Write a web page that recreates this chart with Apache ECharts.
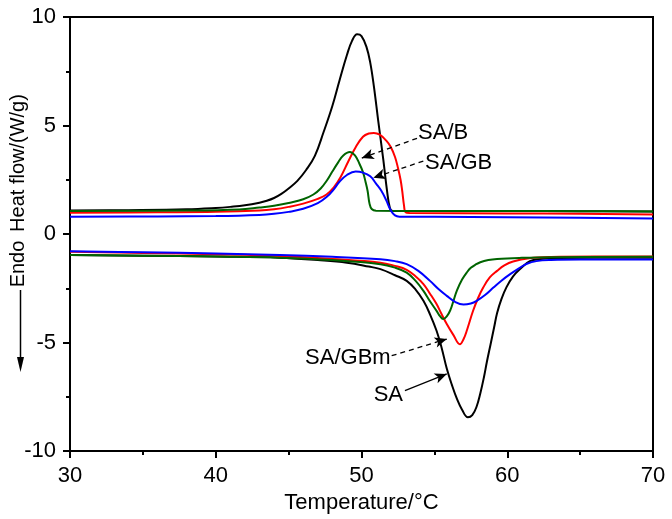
<!DOCTYPE html>
<html>
<head>
<meta charset="utf-8">
<script src="https://cdn.jsdelivr.net/npm/echarts@6/dist/echarts.min.js"></script>
<style>html,body{margin:0;padding:0;background:#fff;}#c{width:672px;height:519px;}</style>
</head>
<body>
<div id="c"></div>
<script>
// ---- data (temperature °C, heat flow W/g) ----
const saTop = [[30,1.08],[34,1.1],[38,1.14],[40,1.2],[41,1.25],[42,1.32],[43,1.44],[43.5,1.53],[44,1.66],[44.5,1.85],[45,2.1],[45.6,2.45],[46.2,2.95],[46.8,3.6],[47.4,4.7],[48,5.9],[48.5,7.1],[49,8.25],[49.35,8.9],[49.7,9.2],[50.0,9.12],[50.35,8.6],[50.6,7.9],[50.85,6.8],[51.15,5.2],[51.5,3.4],[51.75,2.0],[51.95,1.2],[52.15,1.06],[55,1.06],[60,1.06],[65,1.05],[70,1.04]];
const sagbmTop = [[30,0.98],[36,1.0],[40,1.02],[43,1.08],[44,1.14],[45,1.25],[46,1.4],[47,1.62],[47.6,1.82],[48.1,2.15],[48.55,2.6],[49.1,3.35],[49.6,4.0],[50.1,4.48],[50.5,4.63],[50.85,4.66],[51.25,4.58],[51.7,4.3],[52.0,4.02],[52.3,3.55],[52.5,3.05],[52.68,2.5],[52.8,1.95],[52.92,1.3],[53.02,1.0],[53.3,0.97],[60,0.95],[65,0.93],[70,0.9]];
const sabTop = [[30,1.06],[38,1.08],[41.6,1.13],[43,1.22],[44,1.3],[45,1.43],[46,1.6],[46.7,1.82],[47.2,2.1],[47.6,2.44],[48.0,2.88],[48.4,3.3],[48.75,3.62],[49.2,3.78],[49.55,3.62],[49.85,3.25],[50.1,2.85],[50.28,2.4],[50.42,1.98],[50.55,1.4],[50.7,1.15],[51.0,1.07],[55,1.06],[60,1.06],[65,1.05],[70,1.04]];
const sagbTop = [[30,0.8],[36,0.81],[40,0.83],[43,0.88],[44,0.93],[45,1.02],[46,1.16],[47,1.42],[47.6,1.7],[48.1,2.06],[48.5,2.42],[49.0,2.72],[49.6,2.88],[50.1,2.83],[50.6,2.66],[51.0,2.32],[51.35,2.0],[51.7,1.55],[52.0,1.1],[52.3,0.86],[52.6,0.8],[55,0.79],[60,0.77],[65,0.75],[70,0.72]];

const saBot = [[30,-0.97],[35,-1.0],[40,-1.04],[44.4,-1.09],[47,-1.2],[49,-1.32],[50.5,-1.5],[51.3,-1.62],[52.3,-1.9],[53.1,-2.16],[53.7,-2.55],[54.25,-3.08],[54.7,-3.7],[55.15,-4.46],[55.5,-5.25],[55.85,-6.2],[56.2,-6.95],[56.55,-7.6],[56.9,-8.1],[57.3,-8.45],[57.6,-8.35],[57.9,-7.95],[58.15,-7.35],[58.4,-6.6],[58.6,-5.9],[58.85,-5.1],[59.1,-4.3],[59.3,-3.65],[59.6,-3.0],[59.95,-2.45],[60.4,-1.95],[60.9,-1.6],[61.55,-1.25],[62.3,-1.15],[63.5,-1.11],[66,-1.1],[70,-1.1]];
const sagbmBot = [[30,-0.82],[35,-0.87],[40,-0.93],[44.4,-1.01],[48,-1.15],[51.3,-1.32],[52.3,-1.47],[53.1,-1.65],[53.7,-1.95],[54.25,-2.31],[54.7,-2.75],[55.15,-3.23],[55.5,-3.7],[55.85,-4.15],[56.3,-4.65],[56.75,-5.08],[57.0,-4.85],[57.25,-4.4],[57.65,-3.55],[58.0,-2.95],[58.35,-2.47],[58.8,-2.0],[59.3,-1.7],[59.8,-1.45],[60.4,-1.27],[61.5,-1.12],[63,-1.06],[66,-1.04],[70,-1.04]];
const sabBot = [[30,-0.97],[35,-1.0],[40,-1.04],[44.4,-1.09],[48,-1.2],[51.3,-1.39],[52.3,-1.55],[53.1,-1.78],[53.7,-2.15],[54.25,-2.62],[54.7,-3.1],[55.15,-3.54],[55.4,-3.8],[55.6,-3.92],[55.85,-3.8],[56.1,-3.5],[56.3,-3.1],[56.55,-2.6],[56.9,-2.1],[57.25,-1.75],[57.5,-1.56],[57.8,-1.42],[58.15,-1.3],[58.7,-1.2],[59.3,-1.15],[61,-1.1],[63,-1.07],[70,-1.05]];
const sagbBot = [[30,-0.8],[35,-0.84],[40,-0.9],[44.4,-0.97],[48,-1.05],[51.3,-1.16],[52.3,-1.25],[53.1,-1.39],[53.9,-1.7],[54.7,-2.16],[55.3,-2.55],[55.85,-2.85],[56.4,-3.12],[57.0,-3.25],[57.5,-3.2],[57.9,-3.08],[58.5,-2.8],[59.05,-2.47],[59.6,-2.15],[60.2,-1.85],[60.8,-1.58],[61.35,-1.37],[62,-1.25],[63,-1.2],[65,-1.18],[70,-1.18]];

const xTicks = {min:30, max:70, interval:10};
const yTicks = {min:-10, max:10, interval:5, minorInterval:2.5};

// annotation labels: [text, labelPoint, arrowStart, arrowEnd, dashed, align]
const notes = [
  ['SA/B',   [53.88, 4.64],  [53.81, 4.41],  [50.02, 3.50],  true,  'right'],
  ['SA/GB',  [54.36, 3.26],  [54.24, 3.36],  [50.81, 2.59],  true,  'right'],
  ['SA/GBm', [52.0, -5.72],  [52.07, -5.61], [55.85, -4.84], true,  'left'],
  ['SA',     [52.85, -7.4],  [52.98, -7.22], [55.85, -6.45], false, 'left']
];

const FONT = '"Liberation Sans", Arial, sans-serif';
const chart = echarts.init(document.getElementById('c'), null, {renderer:'canvas'});

function lineSeries(name, data, color) {
  return {
    name: name, type: 'line', data: data, showSymbol: false, symbol: 'none',
    smooth: 0.4,
    lineStyle: {color: color, width: 2}, itemStyle: {color: color},
    emphasis: {disabled: true}, silent: true, z: 3
  };
}

const series = [
  lineSeries('SA top', saTop, '#000000'),
  lineSeries('SA/GBm top', sagbmTop, '#ff0000'),
  lineSeries('SA/B top', sabTop, '#006400'),
  lineSeries('SA/GB top', sagbTop, '#0000ff'),
  lineSeries('SA bottom', saBot, '#000000'),
  lineSeries('SA/GBm bottom', sagbmBot, '#ff0000'),
  lineSeries('SA/B bottom', sabBot, '#006400'),
  lineSeries('SA/GB bottom', sagbBot, '#0000ff')
];

series.push({
  name: 'notes', type: 'line', data: [], silent: true,
  markLine: {
    silent: true, animation: false, symbolSize: [8, 12],
    label: {show: false},
    data: notes.map(n => [
      {coord: n[2], symbol: 'none', lineStyle: {color:'#000', width: 1.3, type: n[4] ? [5,4] : 'solid'}},
      {coord: n[3], symbol: 'arrow'}
    ])
  },
  markPoint: {
    silent: true, animation: false, symbol: 'circle', symbolSize: 0,
    data: notes.map(n => ({
      coord: n[1],
      label: {show: true, formatter: n[0], position: n[5], distance: 0,
              color: '#000', fontSize: 22, fontFamily: FONT}
    }))
  }
});

chart.setOption({
  animation: false,
  backgroundColor: '#fff',
  grid: {left: 70, right: 19, top: 17, bottom: 68, show: true, borderColor: '#000', borderWidth: 2, backgroundColor: 'transparent'},
  xAxis: {
    type: 'value', min: xTicks.min, max: xTicks.max, interval: xTicks.interval,
    name: 'Temperature/°C', nameLocation: 'middle', nameGap: 36,
    nameTextStyle: {color: '#000', fontSize: 22, fontFamily: FONT},
    axisLine: {show: true, onZero: false, lineStyle: {color: '#000', width: 2}},
    axisTick: {show: true, inside: false, length: 7, lineStyle: {color: '#000', width: 2}},
    minorTick: {show: true, splitNumber: 2, length: 4, lineStyle: {color: '#000', width: 2}},
    axisLabel: {color: '#000', fontSize: 22, fontFamily: FONT, margin: 14},
    splitLine: {show: false}
  },
  yAxis: [{
    type: 'value', min: yTicks.min, max: yTicks.max, interval: yTicks.interval, position: 'left',
    axisLine: {show: true, onZero: false, lineStyle: {color: '#000', width: 2}},
    axisTick: {show: true, inside: false, length: 7, lineStyle: {color: '#000', width: 2}},
    minorTick: {show: false},
    axisLabel: {color: '#000', fontSize: 22, fontFamily: FONT, margin: 14},
    splitLine: {show: false}
  }, {
    type: 'value', min: yTicks.min, max: yTicks.max, interval: yTicks.minorInterval, position: 'left', offset: 0,
    axisLine: {show: false, onZero: false},
    axisTick: {show: true, inside: false, length: 4, lineStyle: {color: '#000', width: 2}},
    axisLabel: {show: false},
    splitLine: {show: false}
  }],
  graphic: [
    {type: 'text', x: 18, y: 163, rotation: Math.PI/2,
     style: {text: 'Heat flow/(W/g)', fill: '#000', font: '20px ' + FONT, align: 'center', verticalAlign: 'middle'}},
    {type: 'text', x: 18, y: 264, rotation: Math.PI/2,
     style: {text: 'Endo', fill: '#000', font: '20px ' + FONT, align: 'center', verticalAlign: 'middle'}},
    {type: 'line', shape: {x1: 20.5, y1: 290, x2: 20.5, y2: 360}, style: {stroke: '#000', lineWidth: 1.5}},
    {type: 'polygon', shape: {points: [[17, 357], [24, 357], [20.5, 372]]}, style: {fill: '#000'}}
  ],
  series: series
});
</script>
</body>
</html>
